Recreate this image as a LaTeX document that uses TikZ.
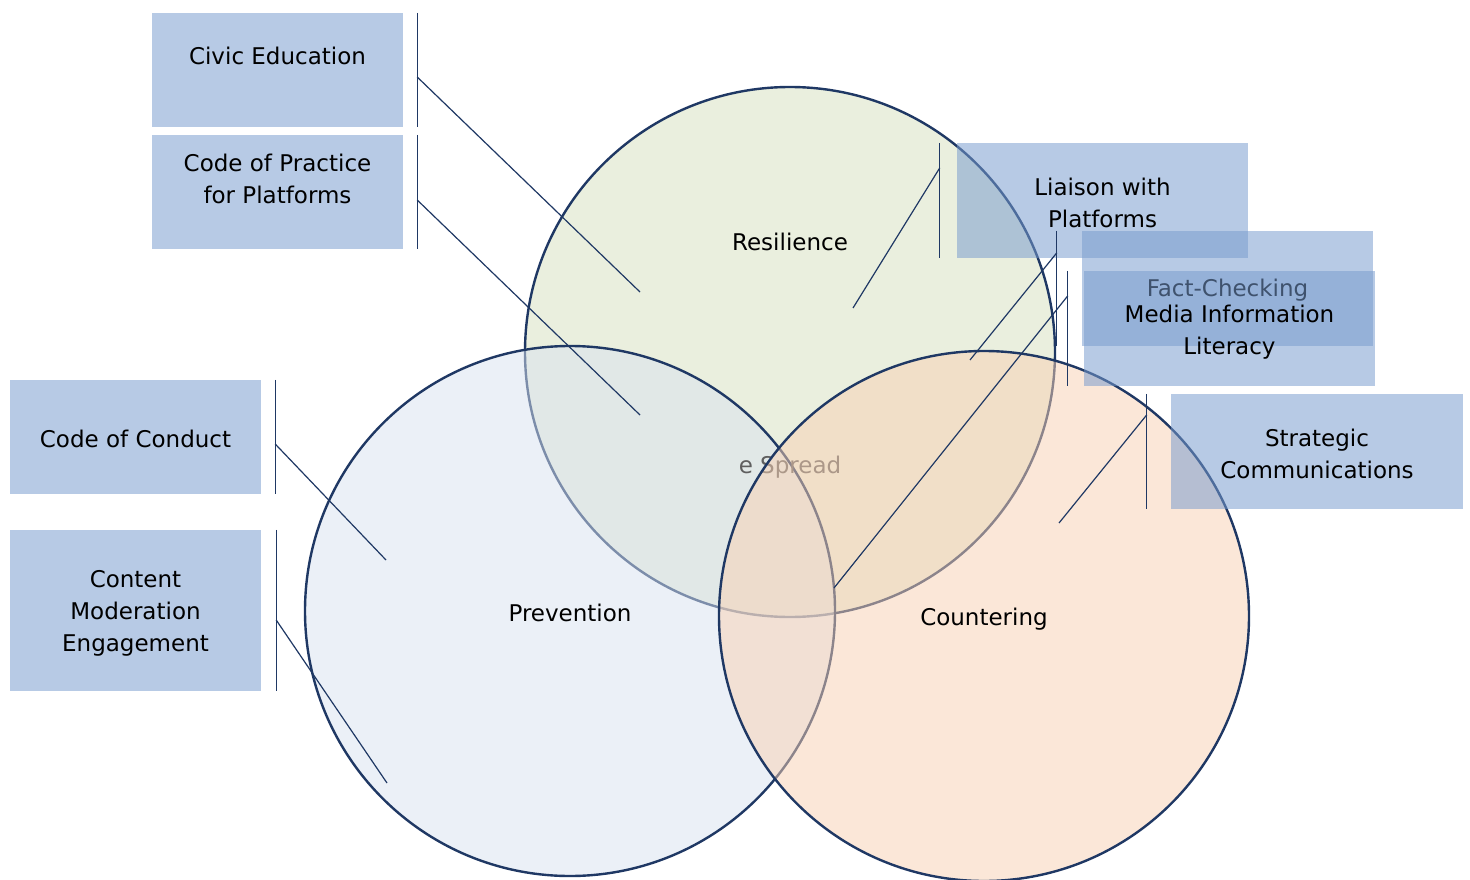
\documentclass[tikz,border=0pt]{standalone}
\usepackage{fontspec}
\setmainfont{DejaVu Sans}
\definecolor{navy}{RGB}{31,56,100}
\definecolor{resc}{RGB}{215,225,191}
\definecolor{prevc}{RGB}{217,227,241}
\definecolor{countc}{RGB}{249,209,179}
\definecolor{boxc}{RGB}{119,155,206}
\definecolor{spreadc}{RGB}{95,95,95}
\begin{document}
\begin{tikzpicture}[x=1pt,y=-1pt,
  every node/.style={font=\fontsize{23}{32}\selectfont, align=center, inner sep=0pt},
  venn/.style={circle, draw=navy, line width=2.4pt, minimum size=530pt, fill opacity=0.5},
  infobox/.style={rectangle, fill=boxc, fill opacity=0.53, text opacity=1, minimum width=#1},
  infobox/.default=251pt,
  conn/.style={draw=navy, line width=1.2pt}]
\useasboundingbox (0,0) rectangle (1470,880);
\fill[white] (0,0) rectangle (1470,880);
% circles
\node[venn, fill=resc] (res) at (790,352) {};
\node[venn, fill=prevc] (prev) at (570,611) {};
\node[text=spreadc] (spread) at (790,467) {e Spread};
\node[venn, fill=countc] (count) at (984,616) {};
\node (reslab) at (790,242) {Resilience};
\node (prevlab) at (570,613) {Prevention};
\node (countlab) at (984,619) {Countering};
% boxes
\node[infobox=251pt, minimum height=114pt] (civic) at (277.5,70) {};
\node (civict) at (277.5,56) {Civic Education};
\node[infobox=251pt, minimum height=114pt] (cop) at (277.5,192) {};
\node (copt) at (277.5,179) {Code of Practice\\for Platforms};
\node[infobox=251pt, minimum height=114pt] (conduct) at (135.5,437) {};
\node (conductt) at (135.5,439) {Code of Conduct};
\node[infobox=251pt, minimum height=161pt] (cme) at (135.5,610.5) {};
\node (cmet) at (135.5,613) {Content\\Moderation\\Engagement};
\node[infobox=291pt, minimum height=115pt] (liaison) at (1102.5,200.5) {};
\node (liaisont) at (1102.5,203) {Liaison with\\Platforms};
\node[infobox=291pt, minimum height=115pt] (fact) at (1227.5,288.5) {};
\node (factt) at (1227.5,290) {Fact-Checking};
\node[infobox=291pt, minimum height=115pt] (mil) at (1229.5,328.5) {};
\node (milt) at (1229.5,332) {Media Information\\Literacy};
\node[infobox=292pt, minimum height=115pt] (strat) at (1317,451.5) {};
\node (stratt) at (1317,453.5) {Strategic\\Communications};
% connector targets
\coordinate (civicE) at (640,292);
\coordinate (copE) at (640,415);
\coordinate (conductE) at (386,560);
\coordinate (cmeE) at (387,783);
\coordinate (liaisonE) at (853,308);
\coordinate (factE) at (970,360);
\coordinate (milE) at (834,588);
\coordinate (stratE) at (1059,523);
% connectors
\draw[conn] ([xshift=14pt]civic.north east) -- ([xshift=14pt]civic.south east);
\draw[conn] ([xshift=14pt,yshift=-7pt]civic.east) -- (civicE);
\draw[conn] ([xshift=14pt]cop.north east) -- ([xshift=14pt]cop.south east);
\draw[conn] ([xshift=14pt,yshift=-8pt]cop.east) -- (copE);
\draw[conn] ([xshift=14pt]conduct.north east) -- ([xshift=14pt]conduct.south east);
\draw[conn] ([xshift=14pt,yshift=-7pt]conduct.east) -- (conductE);
\draw[conn] ([xshift=15pt]cme.north east) -- ([xshift=15pt]cme.south east);
\draw[conn] ([xshift=15pt,yshift=-9.5pt]cme.east) -- (cmeE);
\draw[conn] ([xshift=-17pt]liaison.north west) -- ([xshift=-17pt]liaison.south west);
\draw[conn] ([xshift=-17pt,yshift=-25pt]liaison.north west) -- (liaisonE);
\draw[conn] ([xshift=-25pt]fact.north west) -- ([xshift=-25pt]fact.south west);
\draw[conn] ([xshift=-25pt,yshift=-22pt]fact.north west) -- (factE);
\draw[conn] ([xshift=-16pt]mil.north west) -- ([xshift=-16pt]mil.south west);
\draw[conn] ([xshift=-16pt,yshift=-25pt]mil.north west) -- (milE);
\draw[conn] ([xshift=-24pt]strat.north west) -- ([xshift=-24pt]strat.south west);
\draw[conn] ([xshift=-24pt,yshift=-21pt]strat.north west) -- (stratE);
\end{tikzpicture}
\end{document}
